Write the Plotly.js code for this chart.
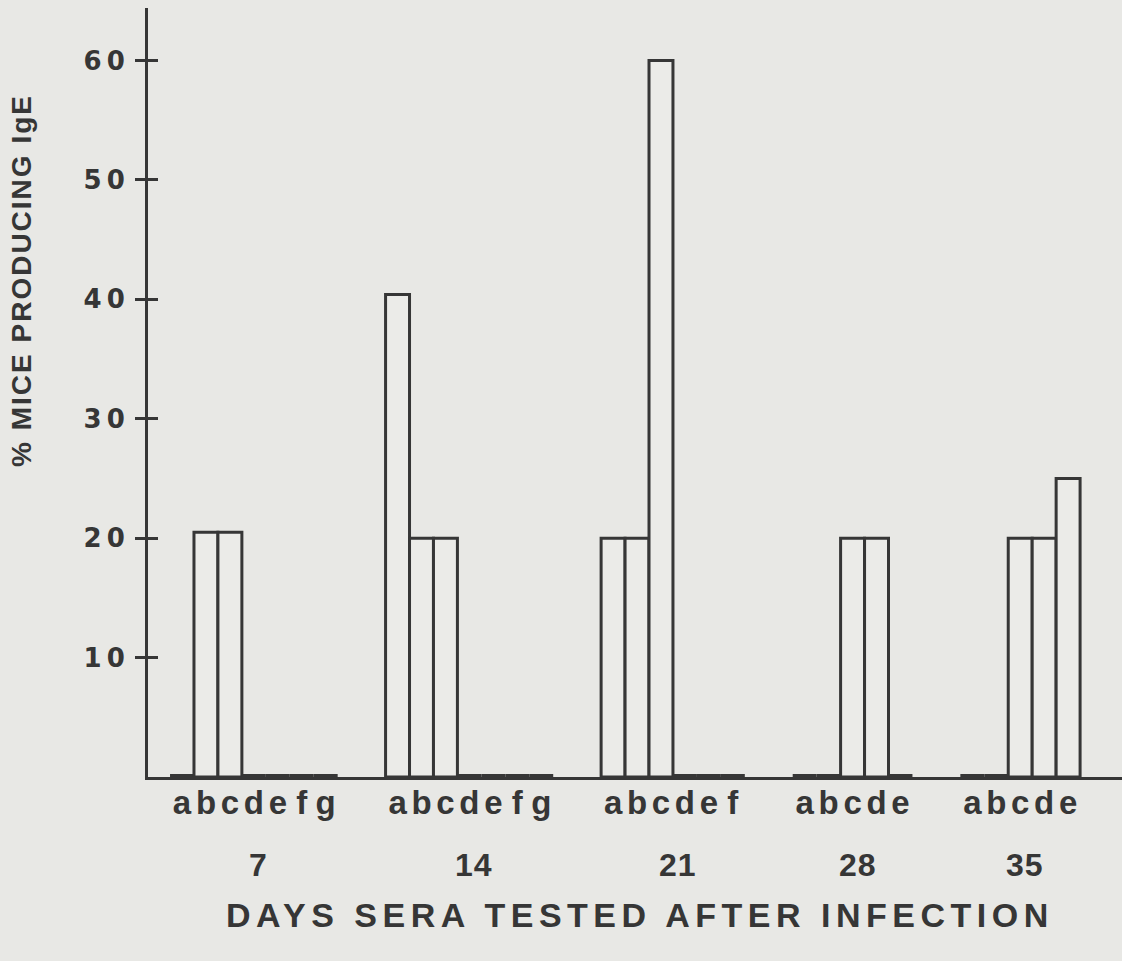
<!DOCTYPE html>
<html>
<head>
<meta charset="utf-8">
<script src="https://cdn.plot.ly/plotly-3.0.1.min.js"></script>
<style>
  html, body { margin: 0; padding: 0; background: #e8e8e5; }
  #chart { width: 1122px; height: 961px; }
  /* tracking (letter-spacing) keyed on the unique font sizes used below */
  text[style*="font-size: 34px"] { letter-spacing: 5.5px; }
  text[style*="font-size: 28px"] { letter-spacing: 2px; }
  text[style*="font-size: 26px"] { letter-spacing: 5px; }
  text[style*="font-size: 32px"] { letter-spacing: 1px; }
</style>
</head>
<body>
<div id="chart"></div>
<script>
// ---- data ----
const days = ['7', '14', '21', '28', '35'];

const letters7  = ['a', 'b', 'c', 'd', 'e', 'f', 'g'];
const values7   = [0, 20.5, 20.5, 0, 0, 0, 0];

const letters14 = ['a', 'b', 'c', 'd', 'e', 'f', 'g'];
const values14  = [40.4, 20, 20, 0, 0, 0, 0];

const letters21 = ['a', 'b', 'c', 'd', 'e', 'f'];
const values21  = [20, 20, 60, 0, 0, 0];

const letters28 = ['a', 'b', 'c', 'd', 'e'];
const values28  = [0, 0, 20, 20, 0];

const letters35 = ['a', 'b', 'c', 'd', 'e'];
const values35  = [0, 0, 20, 20, 25];

const yTicks = [10, 20, 30, 40, 50, 60];

const yTitle = '% MICE PRODUCING IgE';
const xTitle = 'DAYS SERA TESTED AFTER INFECTION';

// ---- build bar slots ----
const groupLetters = [letters7, letters14, letters21, letters28, letters35];
const groupValues  = [values7, values14, values21, values28, values35];
const GAP = 2;

const xs = [], ys = [], labels = [], centers = [], lineW = [];
let pos = 0;
groupValues.forEach((vals, gi) => {
  const start = pos;
  vals.forEach((v, i) => {
    xs.push(pos);
    ys.push(v);
    labels.push(groupLetters[gi][i]);
    lineW.push(v === 0 ? 6 : 3);
    pos += 1;
  });
  centers.push((start + pos - 1) / 2);
  pos += GAP;
});

const ink = '#363636';
const paper = '#e8e8e5';

const traces = [
  {
    type: 'bar',
    x: xs,
    y: ys,
    width: 1,
    marker: { color: '#ebebe8', line: { color: ink, width: lineW } },
    hoverinfo: 'skip',
    showlegend: false
  },
  {
    type: 'scatter',
    x: [null],
    y: [null],
    yaxis: 'y2',
    mode: 'markers',
    hoverinfo: 'skip',
    showlegend: false
  }
];

const annotations = days.map((d, i) => ({
  x: centers[i], xref: 'x',
  y: -0.1144, yref: 'paper',
  text: d, showarrow: false,
  xanchor: 'center', yanchor: 'middle',
  xshift: 5,
  font: { family: 'Liberation Sans, Arial, sans-serif', size: 32, color: ink, weight: 'bold' }
}));

annotations.push({
  x: 0.505, xref: 'paper',
  y: -0.1795, yref: 'paper',
  text: xTitle, showarrow: false,
  xanchor: 'center', yanchor: 'middle',
  font: { family: 'Liberation Sans, Arial, sans-serif', size: 34, color: ink, weight: 'bold' }
});

annotations.push({
  x: -0.1294, xref: 'paper',
  y: 0.6463, yref: 'paper',
  text: yTitle, showarrow: false, textangle: -90,
  xanchor: 'center', yanchor: 'middle',
  font: { family: 'Liberation Sans, Arial, sans-serif', size: 28, color: ink, weight: 'bold' }
});

const layout = {
  width: 1122,
  height: 961,
  margin: { l: 148, r: 0, t: 8, b: 184 },
  paper_bgcolor: paper,
  plot_bgcolor: paper,
  bargap: 0,
  xaxis: {
    range: [-1.42, 39.25],
    showgrid: false,
    zeroline: false,
    showline: true,
    linecolor: ink,
    linewidth: 3,
    ticks: '',
    tickmode: 'array',
    tickvals: xs,
    ticktext: labels,
    tickangle: 0,
    ticklabelstandoff: -6,
    tickfont: { family: 'Liberation Sans, Arial, sans-serif', size: 33, color: ink, weight: 'bold' },
    fixedrange: true
  },
  yaxis: {
    range: [0, 64.4],
    showgrid: false,
    zeroline: false,
    showline: true,
    linecolor: ink,
    linewidth: 3,
    ticks: 'outside',
    ticklen: 10,
    tickwidth: 3,
    tickcolor: ink,
    tickmode: 'array',
    tickvals: yTicks,
    ticktext: yTicks.map(String),
    tickfont: { family: 'DejaVu Sans, Liberation Sans, sans-serif', size: 26, color: ink, weight: 'bold' },
    fixedrange: true
  },
  yaxis2: {
    overlaying: 'y',
    side: 'left',
    anchor: 'x',
    range: [0, 64.4],
    showgrid: false,
    zeroline: false,
    showline: false,
    ticks: 'inside',
    ticklen: 10,
    tickwidth: 3,
    tickcolor: ink,
    tickmode: 'array',
    tickvals: yTicks,
    showticklabels: false,
    fixedrange: true
  },
  annotations: annotations,
  showlegend: false
};

Plotly.newPlot('chart', traces, layout, { displayModeBar: false, staticPlot: true });
</script>
</body>
</html>
